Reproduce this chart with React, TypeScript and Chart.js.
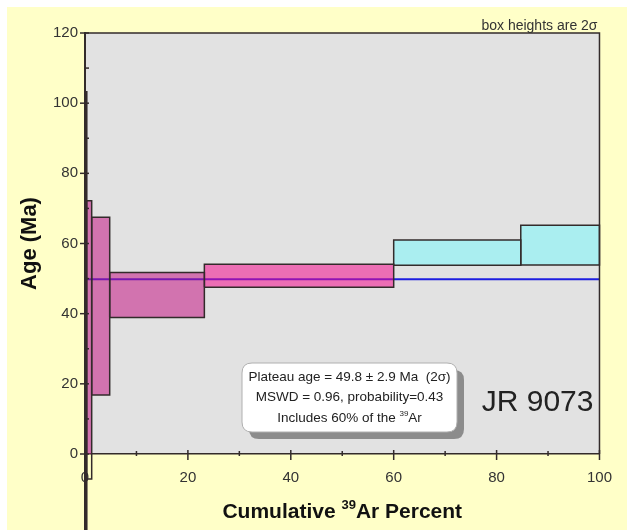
import React, { useEffect, useRef } from "react";
import { Chart, registerables } from "chart.js";

Chart.register(...registerables);

// ---- data ----
const stepStart = [0, 0.3, 1.3, 4.8, 23.2, 60.0, 84.7];
const stepEnd = [0.3, 1.3, 4.8, 23.2, 60.0, 84.7, 100];
const ageLow = [-25, -7.1, 16.8, 38.9, 47.5, 53.8, 53.9];
const ageHigh = [103.2, 72.2, 67.5, 51.7, 54.1, 61.0, 65.2];
const stepFill = [
  "rgba(196,20,131,0.54)",
  "rgba(196,20,131,0.54)",
  "rgba(196,20,131,0.54)",
  "rgba(196,20,131,0.54)",
  "rgba(243,11,141,0.54)",
  "rgba(170,238,240,1)",
  "rgba(170,238,240,1)",
];
const plateauAge = 49.8;
const plateauError = 2.9;
const plateauRange = [0, 100];
const mswd = 0.96;
const probability = 0.43;
const plateauPercent = 60;
const sampleName = "JR 9073";
const xRange = [0, 100];
const yRange = [0, 120];
const tickStep = 10;
const labelStep = 20;

const FONT = "'Liberation Sans', Arial, Helvetica, sans-serif";
const DARK = "#332b2b";

function drawRich(
  ctx: CanvasRenderingContext2D,
  parts: { text: string; sup?: boolean }[],
  cx: number,
  baseline: number,
  size: number,
  weight: string,
  color: string
) {
  const supSize = Math.round(size * 0.62);
  let total = 0;
  const widths = parts.map((p) => {
    ctx.font = `${weight} ${p.sup ? supSize : size}px ${FONT}`;
    const w = ctx.measureText(p.text).width;
    total += w;
    return w;
  });
  let x = cx - total / 2;
  ctx.fillStyle = color;
  ctx.textAlign = "left";
  ctx.textBaseline = "alphabetic";
  parts.forEach((p, i) => {
    ctx.font = `${weight} ${p.sup ? supSize : size}px ${FONT}`;
    ctx.fillText(p.text, x, p.sup ? baseline - size * 0.42 : baseline);
    x += widths[i];
  });
}

const backgroundPlugin = {
  id: "bgPlugin",
  beforeDraw(chart: any) {
    const { ctx, chartArea: a, width, height } = chart;
    ctx.save();
    ctx.fillStyle = "#ffffc8";
    ctx.fillRect(0, 0, width, height);
    ctx.fillStyle = "#e2e2e2";
    ctx.fillRect(a.left, a.top, a.right - a.left, a.bottom - a.top);
    ctx.restore();
  },
};

const decorPlugin = {
  id: "decorPlugin",
  afterDraw(chart: any) {
    const { ctx, chartArea: a } = chart;
    const xs = chart.scales.x;
    const ys = chart.scales.y;
    ctx.save();
    // frame top & right
    ctx.strokeStyle = DARK;
    ctx.lineWidth = 1.5;
    ctx.beginPath();
    ctx.moveTo(a.left, a.top);
    ctx.lineTo(a.right, a.top);
    ctx.lineTo(a.right, a.bottom);
    ctx.stroke();

    // tick marks
    ctx.lineWidth = 1.5;
    ys.ticks.forEach((t: any) => {
      const p = ys.getPixelForValue(t.value);
      const major = t.value % labelStep === 0;
      ctx.beginPath();
      ctx.moveTo(a.left - (major ? 5 : 0), p);
      ctx.lineTo(a.left + 4, p);
      ctx.stroke();
    });
    xs.ticks.forEach((t: any) => {
      const p = xs.getPixelForValue(t.value);
      const major = t.value % labelStep === 0;
      ctx.beginPath();
      ctx.moveTo(p, a.bottom - (major ? 4 : 3));
      ctx.lineTo(p, a.bottom + (major ? 6 : 2));
      ctx.stroke();
    });

    // axis titles
    ctx.save();
    ctx.translate(a.left - 55, (a.top + a.bottom) / 2);
    ctx.rotate(-Math.PI / 2);
    ctx.fillStyle = "#111";
    ctx.font = `bold 22px ${FONT}`;
    ctx.textAlign = "center";
    ctx.textBaseline = "middle";
    ctx.fillText("Age (Ma)", 0, 0);
    ctx.restore();

    drawRich(
      ctx,
      [{ text: "Cumulative " }, { text: "39", sup: true }, { text: "Ar Percent" }],
      (a.left + a.right) / 2,
      a.bottom + 64,
      21,
      "bold",
      "#111"
    );

    // box heights note
    ctx.fillStyle = "#333";
    ctx.font = `14px ${FONT}`;
    ctx.textAlign = "right";
    ctx.textBaseline = "alphabetic";
    ctx.fillText("box heights are 2\u03c3", a.right - 2, a.top - 3);

    // annotation box
    const bx = a.left + 157;
    const by = a.top + 330;
    const bw = 215;
    const bh = 69;
    const r = 10;
    const rr = (x: number, y: number) => {
      ctx.beginPath();
      ctx.moveTo(x + r, y);
      ctx.lineTo(x + bw - r, y);
      ctx.quadraticCurveTo(x + bw, y, x + bw, y + r);
      ctx.lineTo(x + bw, y + bh - r);
      ctx.quadraticCurveTo(x + bw, y + bh, x + bw - r, y + bh);
      ctx.lineTo(x + r, y + bh);
      ctx.quadraticCurveTo(x, y + bh, x, y + bh - r);
      ctx.lineTo(x, y + r);
      ctx.quadraticCurveTo(x, y, x + r, y);
      ctx.closePath();
    };
    rr(bx + 7, by + 7);
    ctx.fillStyle = "#8c8c8c";
    ctx.fill();
    rr(bx, by);
    ctx.fillStyle = "#ffffff";
    ctx.fill();
    ctx.strokeStyle = "#b0b0b0";
    ctx.lineWidth = 1;
    ctx.stroke();

    const cx = bx + bw / 2;
    ctx.fillStyle = "#222";
    ctx.font = `13.5px ${FONT}`;
    ctx.textAlign = "center";
    ctx.textBaseline = "middle";
    ctx.fillText(
      `Plateau age = ${plateauAge.toFixed(1)} \u00b1 ${plateauError.toFixed(1)} Ma  (2\u03c3)`,
      cx,
      by + 14
    );
    ctx.fillText(`MSWD = ${mswd.toFixed(2)}, probability=${probability.toFixed(2)}`, cx, by + 34);
    drawRich(
      ctx,
      [{ text: `Includes ${plateauPercent}% of the ` }, { text: "39", sup: true }, { text: "Ar" }],
      cx,
      by + 59,
      13.5,
      "normal",
      "#222"
    );

    // sample name
    ctx.fillStyle = "#222";
    ctx.font = `30px ${FONT}`;
    ctx.textAlign = "right";
    ctx.textBaseline = "middle";
    ctx.fillText(sampleName, a.right - 6, a.top + 370);
    ctx.restore();
  },
};

export default function App() {
  const ref = useRef<HTMLCanvasElement | null>(null);

  useEffect(() => {
    if (!ref.current) return;
    const boxes = stepStart.map((x0, i) => ({
      data: [
        { x: x0, y: ageLow[i] },
        { x: stepEnd[i], y: ageLow[i] },
        { x: stepEnd[i], y: ageHigh[i] },
        { x: x0, y: ageHigh[i] },
        { x: x0, y: ageLow[i] },
      ],
      showLine: true,
      fill: "shape",
      backgroundColor: stepFill[i],
      borderColor: DARK,
      borderWidth: i === 0 ? 2 : 1.5,
      pointRadius: 0,
      tension: 0,
      clip: false,
    }));
    const plateauLine = {
      data: plateauRange.map((x) => ({ x, y: plateauAge })),
      showLine: true,
      fill: false,
      borderColor: "#1e1ee0",
      borderWidth: 2,
      pointRadius: 0,
    };

    const chart = new Chart(ref.current, {
      type: "scatter",
      data: { datasets: [...boxes, plateauLine] as any },
      options: {
        animation: false,
        responsive: false,
        events: [],
        layout: { padding: { top: 26, right: 20, left: 0, bottom: 0 } },
        plugins: { legend: { display: false }, tooltip: { enabled: false } },
        scales: {
          x: {
            type: "linear",
            min: xRange[0],
            max: xRange[1],
            ticks: {
              stepSize: tickStep,
              autoSkip: false,
              maxRotation: 0,
              padding: 15,
              color: "#333",
              font: { family: FONT, size: 15 },
              callback: (v: any) => (Number(v) % labelStep === 0 ? String(v) : ""),
            },
            grid: { drawOnChartArea: false, drawTicks: false },
            border: { display: true, color: DARK, width: 1.5 },
            afterFit: (s: any) => {
              s.height = 76;
            },
          },
          y: {
            type: "linear",
            min: yRange[0],
            max: yRange[1],
            ticks: {
              stepSize: tickStep,
              autoSkip: false,
              padding: 7,
              color: "#333",
              font: { family: FONT, size: 15 },
              callback: (v: any) => (Number(v) % labelStep === 0 ? String(v) : ""),
            },
            grid: { drawOnChartArea: false, drawTicks: false },
            border: { display: true, color: DARK, width: 2 },
            afterFit: (s: any) => {
              s.width = 78;
            },
          },
        },
      },
      plugins: [backgroundPlugin, decorPlugin],
    });
    return () => chart.destroy();
  }, []);

  return (
    <div
      style={{
        position: "fixed",
        left: 0,
        top: 0,
        width: 627,
        height: 530,
        background: "#ffffff",
        overflow: "hidden",
      }}
    >
      <canvas
        ref={ref}
        width={620}
        height={523}
        style={{ position: "absolute", left: 7, top: 7, width: 620, height: 523 }}
      />
    </div>
  );
}
